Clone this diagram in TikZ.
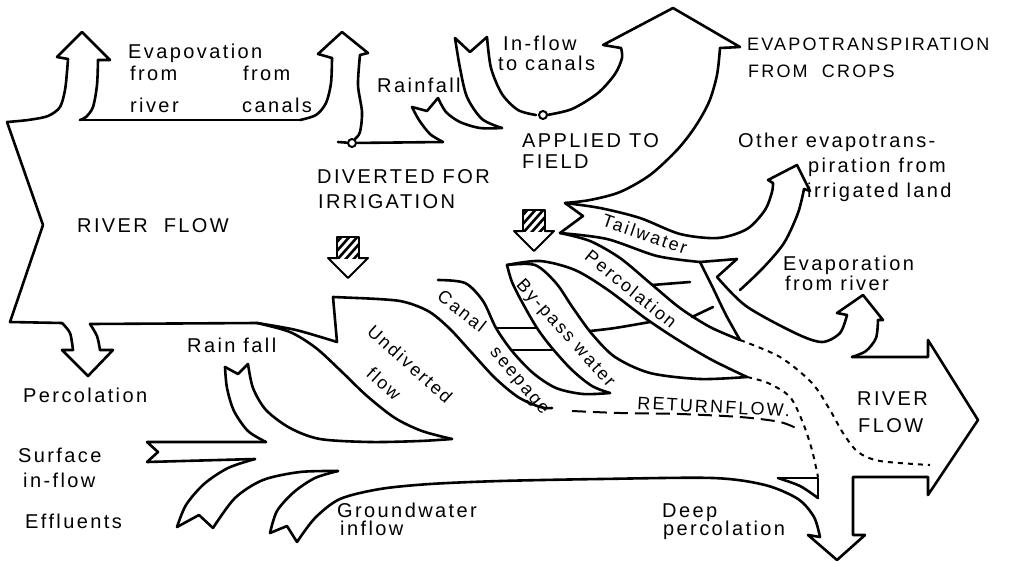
\documentclass[tikz,border=0pt]{standalone}
\usepackage{fontspec}
\newfontfamily\drawfont[LetterSpace=12]{Liberation Sans}
\usetikzlibrary{positioning}

\begin{document}
\begin{tikzpicture}[x=1pt, y=-1pt,
  flow/.style={line width=2.6pt, line cap=round, line join=round},
  shortdash/.style={line width=2pt, dash pattern=on 5pt off 5pt},
  longdash/.style={line width=2pt, dash pattern=on 14pt off 7pt},
  lbl/.style={font=\drawfont\fontsize{20}{22}\selectfont, inner sep=0pt, anchor=base west},
  small/.style={font=\drawfont\fontsize{18}{20}\selectfont, inner sep=0pt, anchor=base west},
  band/.style={font=\drawfont\fontsize{18}{20}\selectfont, inner sep=0pt},
  knot/.style={circle, draw, line width=2pt, fill=white, inner sep=0pt, minimum size=8pt}
]
\useasboundingbox (0,0) rectangle (1015,563);

% river flow in, with evaporation arrows
\draw[flow] (7,122) -- (43,225) -- (10,322);
\draw[flow] plot[smooth] coordinates {(7,122) (28,120) (48,116) (60,107) (65,90) (67,72) (68,59)};
\draw[flow] (68,59) -- (57,57) -- (82,32) -- (110,60) -- (98,60);
\draw[flow] plot[smooth] coordinates {(98,60) (97,85) (93,107) (86,117) (80,120)};
\draw[flow] (80,120) -- (300,120);
\draw[flow] plot[smooth] coordinates {(300,120) (316,115) (326,103) (331,83) (332,58)};
\draw[flow] (332,58) -- (318,54) -- (342,32) -- (368,53) -- (360,55);
\draw[flow] plot[smooth] coordinates {(360,55) (358,85) (362,112) (360,132) (355,139)};

% diverted for irrigation
\node[knot] (div) at (352,143) {};
\draw[flow] (338,142) -- (div);
\draw[flow] (div) -- (443,142);
\draw[flow] plot[smooth] coordinates {(443,142) (430,134) (419,120) (412,107)};
\draw[flow] (412,107) -- (427,111) -- (438,98);
\draw[flow] plot[smooth] coordinates {(438,98) (446,112) (460,122) (480,128) (502,128)};
\draw[flow] plot[smooth] coordinates {(502,128) (482,119) (467,97) (460,68) (455,38)};
\draw[flow] (455,38) -- (470,52) -- (487,37);
\draw[flow] plot[smooth] coordinates {(487,37) (491,68) (502,94) (518,110) (536,115)};

% applied to field, evapotranspiration from crops
\node[knot] (app) at (543,115) {};
\draw[flow] plot[smooth] coordinates {(547,115) (572,109) (598,93) (615,74) (622,58) (621,48)};
\draw[flow] (621,48) -- (603,45) -- (673,8) -- (740,47) -- (720,48);
\draw[flow] plot[smooth] coordinates {(720,48) (717,75) (709,102) (695,127) (677,150) (650,175) (620,192) (590,200) (565,203)};

% tailwater
\draw[flow] (565,203) -- (583,216) -- (560,233);
\draw[flow] plot[smooth] coordinates {(565,203) (600,208) (640,218) (680,234) (718,238) (747,229) (765,210) (772,192) (773,183)};
\draw[flow] (773,183) -- (768,180) -- (797,165) -- (810,191) -- (804,189);
\draw[flow] plot[smooth] coordinates {(804,189) (798,213) (784,243) (763,268) (740,290)};
\draw[flow] (713,307) -- (692,317);
\draw[flow] (652,285) -- (690,282);
\draw[flow] plot[smooth] coordinates {(560,233) (607,239) (657,256) (700,262)};
\draw[flow] (700,262) -- (737,259) -- (717,277);
\draw[flow] plot[smooth] coordinates {(700,262) (712,286) (726,315) (740,340)};
\draw[flow] plot[smooth] coordinates {(717,277) (746,306) (795,333) (822,342) (840,333) (847,315)};

% evaporation from river, river flow out, deep percolation
\draw[flow] (847,315) -- (837,313) -- (863,295) -- (883,320) -- (878,320);
\draw[flow] plot[smooth] coordinates {(878,320) (876,338) (866,351) (852,357)};
\draw[flow] (852,357) -- (928,357) -- (928,340) -- (978,420) -- (928,495) -- (928,477) -- (853,477)
  -- (853,535) -- (865,535) -- (837,560) -- (808,535) -- (820,537);
\draw[flow] plot[smooth] coordinates {(820,537) (814,517) (798,499) (765,485) (713,478) (600,479) (500,481) (430,484) (380,489) (340,499) (315,518) (297,542)};
\draw[flow] (778,478) -- (818,478) -- (818,498);
\draw[flow] plot[smooth] coordinates {(778,478) (800,486) (818,498)};

% groundwater, effluents, surface in-flow, rainfall
\draw[flow] (297,542) -- (287,526) -- (270,533);
\draw[flow] plot[smooth] coordinates {(270,533) (277,511) (294,492) (315,478) (338,471)};
\draw[flow] plot[smooth] coordinates {(338,471) (300,472) (263,480) (235,498) (213,528)};
\draw[flow] (213,528) -- (199,515) -- (177,527);
\draw[flow] plot[smooth] coordinates {(177,527) (186,505) (204,484) (228,468) (255,459)};
\draw[flow] (255,459) -- (147,462) -- (158,452) -- (147,442) -- (266,442);
\draw[flow] plot[smooth] coordinates {(266,442) (248,431) (234,411) (227,388) (225,367)};
\draw[flow] (225,367) -- (238,374) -- (248,364);
\draw[flow] plot[smooth] coordinates {(248,364) (253,388) (266,410) (290,428) (320,439) (370,442) (420,441) (452,439)};

% percolation out of river, undiverted flow
\draw[flow] (10,322) -- (62,323);
\draw[flow] plot[smooth] coordinates {(62,323) (70,333) (73,350)};
\draw[flow] (73,350) -- (62,350) -- (88,376) -- (113,350) -- (100,350);
\draw[flow] plot[smooth] coordinates {(100,350) (97,336) (90,324)};
\draw[flow] (90,324) -- (257,323);
\draw[flow] plot[smooth] coordinates {(257,323) (290,332) (316,348) (341,371) (367,396) (395,418) (422,431) (452,439)};
\draw[flow] plot[smooth] coordinates {(257,323) (296,330) (337,342)};
\draw[flow] (337,342) -- (333,297) -- (357,298);
\draw[flow] plot[smooth] coordinates {(357,298) (400,301) (428,311) (449,328) (472,353) (495,378) (518,397) (540,407) (552,408)};

% canal seepage, by-pass, percolation
\draw[flow] plot[smooth] coordinates {(438,280) (465,283) (483,301) (496,328) (512,351) (533,373) (556,388) (583,394) (610,393)};
\draw[flow] plot[smooth] coordinates {(507,265) (512,282) (522,302) (537,328) (552,348) (572,370) (592,386) (610,393)};
\draw[flow] (496,328) -- (537,328);
\draw[flow] (511,350) -- (553,350);
\draw[flow] plot[smooth] coordinates {(507,265) (535,265) (556,283) (573,308) (592,334) (615,357) (650,373) (700,379) (747,377)};
\draw[flow] plot[smooth] coordinates {(507,265) (540,261) (575,270) (608,290) (645,318) (678,340) (712,360) (747,377)};
\draw[flow] plot[smooth] coordinates {(590,331) (615,328) (650,322)};
\draw[flow] plot[smooth] coordinates {(560,233) (590,241) (620,258) (650,283) (680,308) (710,327) (740,340)};

% return flows
\draw[shortdash] plot[smooth] coordinates {(740,340) (780,357) (812,383) (830,410) (843,433) (858,452) (880,461) (930,465)};
\draw[shortdash] plot[smooth] coordinates {(747,377) (768,383) (790,397) (803,423) (812,450) (818,477)};
\draw[longdash] plot[smooth] coordinates {(572,411) (620,413) (680,414) (740,417) (780,422) (800,430)};

% hatched arrows
\foreach \hx/\hy in {348/237, 534/210} {
  \begin{scope}[shift={(\hx,\hy)}]
    \begin{scope}
      \clip (-11,0) rectangle (11,21);
      \foreach \k in {-32,-24,...,32} \draw[line width=2.6pt] (\k-12,24) -- (\k+12,-3);
    \end{scope}
    \draw[flow, line width=2pt] (-11,21) -- (-11,0) -- (11,0) -- (11,21);
    \draw[flow, line width=2pt] (-11,21) -- (-20,21) -- (0,41) -- (20,21) -- (11,21);
  \end{scope}
}

% labels
\node[lbl] (evrv) at (128,58) {Evapovation};
\node[lbl] (frm1) at (130,80) {from};
\node[lbl] (frm2) at (243,80) {from};
\node[lbl] (rivr) at (130,112) {river};
\node[lbl] (cnls) at (242,112) {canals};
\node[lbl] (rain1) at (377,92) {Rainfall};
\node[lbl] (infl) at (503,50) {In-flow};
\node[lbl] (tocn) at (498,70) {to canals};
\node[lbl] (appl) at (522,147) {APPLIED TO};
\node[lbl] (fild) at (522,168) {FIELD};
\node[lbl] (dvrt) at (317,183) {DIVERTED FOR};
\node[lbl] (irrg) at (318,208) {IRRIGATION};
\node[lbl] (rvfl1) at (77,232) {RIVER\ \ FLOW};
\node[small] (etcr) at (747,50) {EVAPOTRANSPIRATION};
\node[small] (frcr) at (748,77) {FROM\ \ CROPS};
\node[lbl] (oth1) at (738,147) {Other evapotrans-};
\node[lbl] (oth2) at (808,172) {piration from};
\node[lbl] (oth3) at (807,197) {irrigated land};
\node[lbl] (evr1) at (783,270) {Evaporation};
\node[lbl] (evr2) at (785,290) {from river};
\node[lbl] (rvfl2) at (857,405) {RIVER};
\node[lbl] (rvfl3) at (858,432) {FLOW};
\node[lbl] (dp1) at (662,517) {Deep};
\node[lbl] (dp2) at (663,535) {percolation};
\node[lbl] (gw1) at (337,517) {Groundwater};
\node[lbl] (gw2) at (340,535) {inflow};
\node[lbl] (eff) at (25,528) {Effluents};
\node[lbl] (sf1) at (18,462) {Surface};
\node[lbl] (sf2) at (23,487) {in-flow};
\node[lbl] (prc1) at (23,402) {Percolation};
\node[lbl] (rain2) at (187,352) {Rain fall};
\node[small, rotate=-3] (rtn) at (637,409) {RETURNFLOW.};
\node[band, rotate=-19] (tlw) at (645,234) {Tailwater};
\node[band, rotate=-39] (prc2) at (631,289) {Percolation};
\node[band, rotate=-48] (byp) at (565,334) {By-pass water};
\node[band, rotate=-38] (cnl) at (462,311) {Canal};
\node[band, rotate=-50] (sep) at (518,382) {seepage};
\node[band, rotate=-42] (und) at (410,364) {Undiverted};
\node[band, rotate=-42] (flw) at (384,384) {flow};
\end{tikzpicture}
\end{document}
